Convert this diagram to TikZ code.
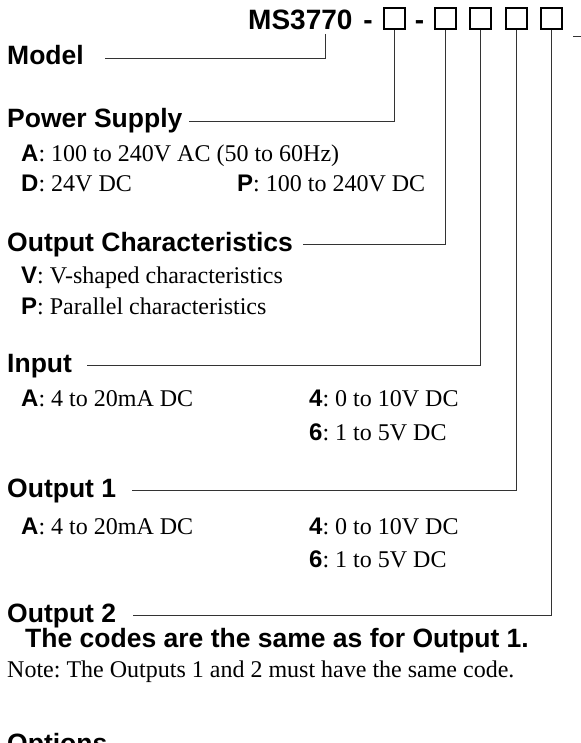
\documentclass[tikz,border=0pt]{standalone}
\usepackage{fontspec}
\setmainfont{Liberation Serif}
\newfontfamily\arial{Liberation Sans}
\usetikzlibrary{positioning}
\frenchspacing

\newcommand{\optcode}[2]{{\arial\bfseries #1}: #2}

\begin{document}
\begin{tikzpicture}[x=1pt, y=-1pt,
    hd/.style={anchor=base west, inner sep=0pt, font=\arial\bfseries\fontsize{26.5}{30}\selectfont,
      text height=19.3pt, text depth=5.6pt},
    codetxt/.style={anchor=base west, inner sep=0pt, font=\fontsize{24}{28}\selectfont},
    selbox/.style={draw, line width=2pt, minimum size=21pt, inner sep=0pt},
    dashmark/.style={anchor=base, inner sep=0pt, font=\arial\bfseries\fontsize{28}{32}\selectfont},
    link/.style={line width=1pt, black!80}]
    \useasboundingbox (0,0) rectangle (580,743);

    % model code
    \node[anchor=base west, inner sep=0pt, font=\arial\bfseries\fontsize{28}{32}\selectfont] (title) at (248,30) {MS3770};
    \node[dashmark] (d1) at (368,30) {-};
    \node[dashmark] (d2) at (419.5,30) {-};
    \foreach \i/\x in {1/394.5, 2/445, 3/480.5, 4/516, 5/551.5}
        \node[selbox] (b\i) at (\x,18.5) {};
    \coordinate (tail) at (573,37);
    \draw[link] (tail) -- ++(8,0);

    % headings
    \node[hd] (model) at (7,65) {Model};
    \node[hd] (ps) at (7,128) {Power Supply};
    \node[hd] (oc) at (7,251) {Output Characteristics};
    \node[hd] (inp) at (7,372) {Input};
    \node[hd] (out1) at (7,497) {Output 1};
    \node[hd] (out2) at (7,622) {Output 2};
    \node[hd] (opts) at (7,752) {Options};

    % codes
    \node[codetxt] (psa) at (21,162) {\optcode{A}{100 to 240V AC (50 to 60Hz)}};
    \node[codetxt] (psd) at (21,192) {\optcode{D}{24V DC}};
    \node[codetxt] (psp) at (237,192) {\optcode{P}{100 to 240V DC}};
    \node[codetxt] (ocv) at (21,283) {\optcode{V}{V-shaped characteristics}};
    \node[codetxt] (ocp) at (21,314) {\optcode{P}{Parallel characteristics}};
    \node[codetxt] (ina) at (21,406) {\optcode{A}{4 to 20mA DC}};
    \node[codetxt] (in4) at (309,406) {\optcode{4}{0 to 10V DC}};
    \node[codetxt] (in6) at (309,440) {\optcode{6}{1 to 5V DC}};
    \node[codetxt] (o1a) at (21,534) {\optcode{A}{4 to 20mA DC}};
    \node[codetxt] (o14) at (309,534) {\optcode{4}{0 to 10V DC}};
    \node[codetxt] (o16) at (309,567) {\optcode{6}{1 to 5V DC}};
    \node[hd] (same) at (25,647) {The codes are the same as for Output 1.};
    \node[codetxt] (note) at (7,677) {Note: The Outputs 1 and 2 must have the same code.};

    % leader lines
    \coordinate (mtap) at (325,34);
    \draw[link] (mtap) |- ([xshift=21pt]model.east);
    \draw[link] (b1.south) |- ([xshift=6pt]ps.east);
    \draw[link] (b2.south) |- ([xshift=10pt]oc.east);
    \draw[link] (b3.south) |- ([xshift=15pt]inp.east);
    \draw[link] (b4.south) |- ([xshift=16pt]out1.east);
    \draw[link] (b5.south) |- ([xshift=17pt]out2.east);
\end{tikzpicture}
\end{document}
